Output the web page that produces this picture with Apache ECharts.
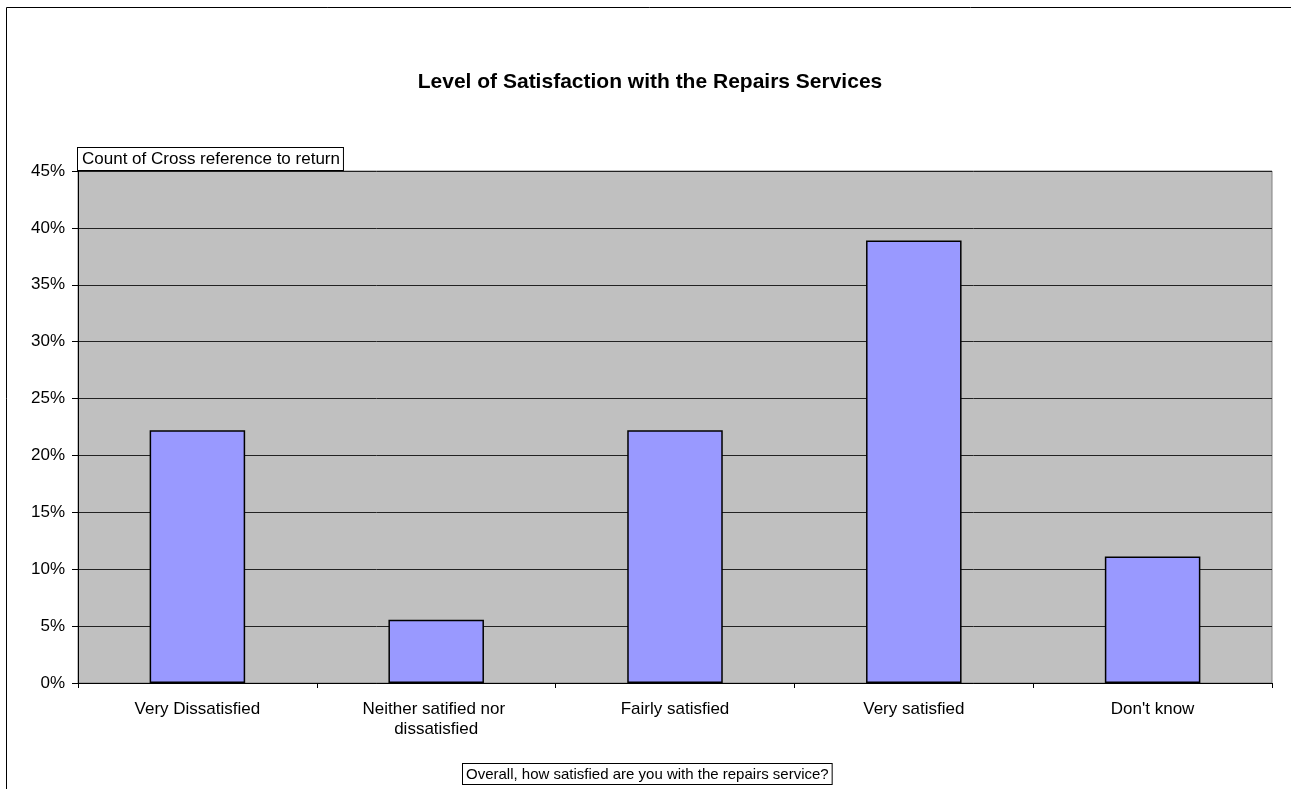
<!DOCTYPE html>
<html>
<head>
<meta charset="utf-8">
<style>
  html, body { margin: 0; padding: 0; background: #fff; }
  #chart { width: 1291px; height: 789px; }
</style>
<script src="https://cdn.jsdelivr.net/npm/echarts@6/dist/echarts.min.js"></script>
</head>
<body>
<div id="chart"></div>
<script>
// Survey responses (share of respondents, %)
const categories = [
  'Very Dissatisfied',
  'Neither satified nor dissatisfied',
  'Fairly satisfied',
  'Very satisfied',
  "Don't know"
];
const shares = [22.22, 5.56, 22.22, 38.89, 11.11];
const chartTitle = 'Level of Satisfaction with the Repairs Services';
const valueFieldName = 'Count of Cross reference to return';
const categoryFieldName = 'Overall, how satisfied are you with the repairs service?';

const FONT = 'Liberation Sans, Arial, sans-serif';

const chart = echarts.init(document.getElementById('chart'), null, { renderer: 'canvas' });

chart.setOption({
  animation: false,
  backgroundColor: '#ffffff',
  textStyle: { fontFamily: FONT },
  title: {
    text: chartTitle,
    left: 645,
    textAlign: 'center',
    top: 67,
    textStyle: { fontFamily: FONT, fontSize: 21, fontWeight: 'bold', color: '#000' }
  },
  grid: {
    left: 78,
    right: 19,
    top: 171,
    bottom: 106,
    show: true,
    backgroundColor: '#C0C0C0',
    borderColor: '#808080',
    borderWidth: 1
  },
  xAxis: {
    type: 'category',
    data: categories,
    boundaryGap: true,
    axisLine: { show: true, lineStyle: { color: '#000', width: 1 } },
    axisTick: { show: true, alignWithLabel: false, length: 5, lineStyle: { color: '#000' } },
    axisLabel: {
      color: '#000',
      fontSize: 17,
      fontFamily: FONT,
      margin: 16,
      width: 200,
      overflow: 'break',
      lineHeight: 20,
      interval: 0
    },
    splitLine: { show: false }
  },
  yAxis: {
    type: 'value',
    min: 0,
    max: 45,
    interval: 5,
    name: valueFieldName,
    nameLocation: 'end',
    nameGap: 1,
    nameTextStyle: {
      align: 'left',
      verticalAlign: 'bottom',
      color: '#000',
      fontSize: 17,
      fontFamily: FONT,
      backgroundColor: '#fff',
      borderColor: '#000',
      borderWidth: 1,
      padding: [3, 3, 2, 4]
    },
    axisLine: { show: true, lineStyle: { color: '#000', width: 1 } },
    axisTick: { show: true, length: 6, lineStyle: { color: '#000' } },
    axisLabel: {
      color: '#000',
      fontSize: 17,
      fontFamily: FONT,
      margin: 13,
      formatter: v => v + '%'
    },
    splitLine: { show: true, lineStyle: { color: '#222', width: 1 } }
  },
  series: [{
    type: 'bar',
    data: shares,
    barWidth: '40%',
    itemStyle: { color: '#9999FF', borderColor: '#000', borderWidth: 1.5 }
  }],
  graphic: [
    {
      // chart frame (left and top edges visible)
      type: 'rect',
      shape: { x: 6.5, y: 7.5, width: 2000, height: 2000 },
      style: { fill: 'none', stroke: '#000', lineWidth: 1 },
      silent: true,
      z: 100
    },
    {
      type: 'text',
      left: 462,
      top: 763,
      style: {
        text: categoryFieldName,
        font: '15px ' + FONT,
        fill: '#000',
        backgroundColor: '#fff',
        borderColor: '#000',
        borderWidth: 1,
        padding: [3, 3, 2, 3]
      },
      z: 100
    }
  ]
});
</script>
</body>
</html>
